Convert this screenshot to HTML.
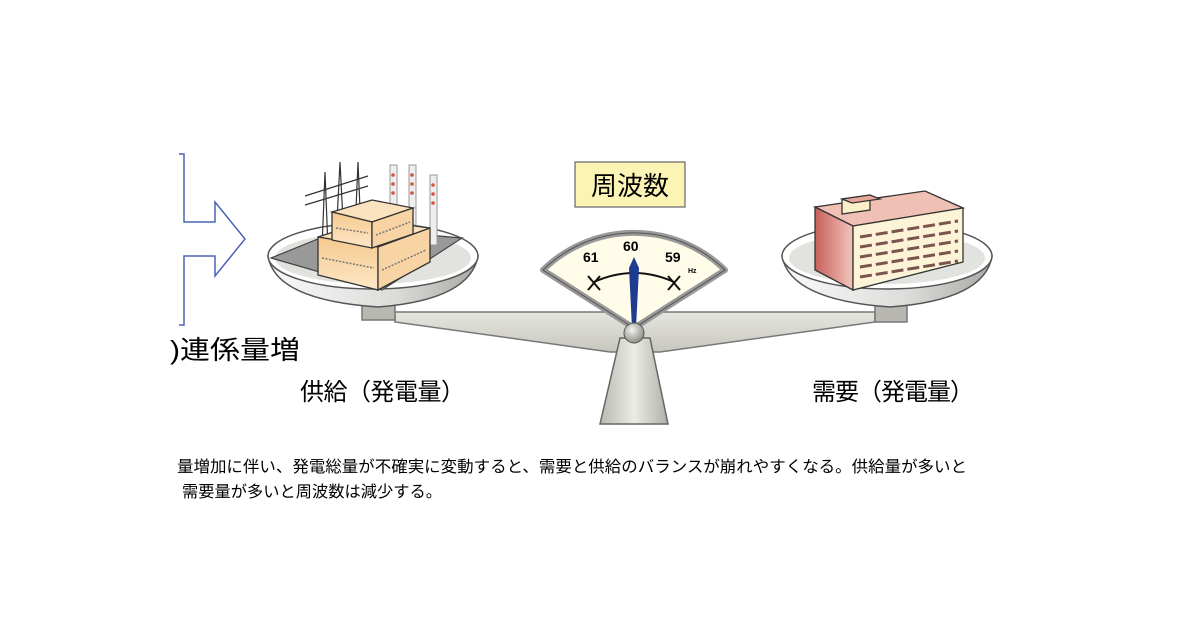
<!DOCTYPE html>
<html><head><meta charset="utf-8"><style>
html,body{margin:0;padding:0;background:#fff;}
svg{display:block}
text{font-family:"Liberation Sans","Noto Sans CJK JP",sans-serif;}
</style></head><body>
<svg width="1200" height="630" viewBox="0 0 1200 630" xmlns="http://www.w3.org/2000/svg">
<defs>
<linearGradient id="bowl" x1="0" x2="1" y1="0" y2="0"><stop offset="0" stop-color="#fafafa"/><stop offset="0.6" stop-color="#dcdcda"/><stop offset="1" stop-color="#a9a9a5"/></linearGradient>
<linearGradient id="beam" x1="0" x2="0" y1="0" y2="1"><stop offset="0" stop-color="#e6e6e0"/><stop offset="1" stop-color="#c7c7bf"/></linearGradient>
<linearGradient id="ped" x1="0" x2="1"><stop offset="0" stop-color="#b9b9b2"/><stop offset="0.5" stop-color="#ecece6"/><stop offset="1" stop-color="#b0b0a8"/></linearGradient>
<linearGradient id="box" x1="0" x2="0" y1="0" y2="1"><stop offset="0" stop-color="#f6c98e"/><stop offset="1" stop-color="#fde7c8"/></linearGradient>
<linearGradient id="pink" x1="0" x2="1"><stop offset="0" stop-color="#c8605a"/><stop offset="1" stop-color="#f1c6bd"/></linearGradient>
<radialGradient id="ball" cx="0.4" cy="0.35" r="0.7"><stop offset="0" stop-color="#f4f4f0"/><stop offset="1" stop-color="#888880"/></radialGradient>
</defs>

<path d="M179 154 H184 V222 H215 V202 L245 239 L215 276 V256 H184 V325 H179" fill="none" stroke="#4a63b8" stroke-width="1.5"/>

<path d="M395 312 H875 V322 L660 352 H610 L395 322 Z" fill="url(#beam)" stroke="#777" stroke-width="1.5"/>
<rect x="362" y="303" width="33" height="17" fill="#b8b8b0" stroke="#777" stroke-width="1.5"/>
<rect x="875" y="303" width="32" height="19" fill="#b8b8b0" stroke="#777" stroke-width="1.5"/>

<path d="M620 338 H650 L668 424 H600 Z" fill="url(#ped)" stroke="#666" stroke-width="1.5"/>

<path d="M268 256 Q275 300 378 307 Q470 300 478 256 Z" fill="url(#bowl)" stroke="#555" stroke-width="1.5"/>
<ellipse cx="373" cy="256" rx="105" ry="33" fill="#fff" stroke="#555" stroke-width="1.5"/>
<ellipse cx="373" cy="258" rx="98" ry="26" fill="#e2e2de"/>
<path d="M271 258 L345 228 L462 238 L382 290 Z" fill="#999" stroke="#444" stroke-width="1.2"/>
<g stroke="#333" stroke-width="1.2" fill="none">
<path d="M322 248 L325 172 L328 248 M336 240 L340 162 L344 240 M355 232 L358 162 L361 232"/>
<path d="M305 205 L368 186 M305 196 L368 176"/>
</g>
<g stroke="#999" stroke-width="1">
<rect x="390" y="165" width="7" height="60" fill="#eee"/>
<rect x="409" y="165" width="7" height="60" fill="#eee"/>
<rect x="430" y="175" width="7" height="70" fill="#eee"/>
</g>
<g fill="#d0553a"><circle cx="393" cy="175" r="1.8"/><circle cx="393" cy="184" r="1.8"/><circle cx="393" cy="193" r="1.8"/><circle cx="412" cy="175" r="1.8"/><circle cx="412" cy="184" r="1.8"/><circle cx="412" cy="193" r="1.8"/><circle cx="433" cy="185" r="1.8"/><circle cx="433" cy="194" r="1.8"/><circle cx="433" cy="203" r="1.8"/></g>
<g stroke="#333" stroke-width="1.3">
<path d="M318 237 L370 220 L430 228 L378 247 Z" fill="#fbe2bf"/>
<path d="M318 237 L378 247 V290 L318 275 Z" fill="url(#box)"/>
<path d="M378 247 L430 228 V262 L378 290 Z" fill="#f8d4a5"/>
<path d="M332 212 L372 200 L413 208 L372 222 Z" fill="#fbe2bf"/>
<path d="M332 212 L372 222 V248 L332 240 Z" fill="url(#box)"/>
<path d="M372 222 L413 208 V234 L372 248 Z" fill="#f8d4a5"/>
</g>
<g stroke="#777" stroke-width="1.5" stroke-dasharray="2 1.5"><path d="M322 258 L374 268 M382 270 L426 250 M336 228 L368 233 M376 235 L410 222"/></g>

<path d="M782 256 Q790 300 890 307 Q985 300 992 256 Z" fill="url(#bowl)" stroke="#555" stroke-width="1.5"/>
<ellipse cx="887" cy="256" rx="105" ry="33" fill="#fff" stroke="#555" stroke-width="1.5"/>
<ellipse cx="887" cy="258" rx="98" ry="26" fill="#e2e2de"/>
<g stroke="#333" stroke-width="1.3">
<path d="M815 207 L925 191 L963 208 L853 226 Z" fill="#f1c0b5"/>
<path d="M815 207 L853 226 V290 L815 270 Z" fill="url(#pink)"/>
<path d="M853 226 L963 208 V262 L853 290 Z" fill="#fdf4d8"/>
<path d="M842 199 L870 195 V210 L842 214 Z" fill="#fbefc8"/>
<path d="M842 199 L870 195 L880 199 L852 203 Z" fill="#e9a79c"/>
</g>
<g stroke="#7a5550" stroke-width="3">
<path d="M860 237 L958 221 M860 247 L958 231 M860 257 L958 241 M860 267 L958 251 M860 277 L958 261" stroke-dasharray="12 4"/>
</g>

<path d="M634 328 L543 270 A130 130 0 0 1 725 270 Z" fill="#fffcea" stroke="#999" stroke-width="6" stroke-linejoin="round"/>
<path d="M634 328 L543 270 A130 130 0 0 1 725 270 Z" fill="none" stroke="#555" stroke-width="1"/>
<path d="M594 282 Q634 264 674 282" fill="none" stroke="#111" stroke-width="2"/>
<path d="M588 276 L600 290 M600 276 L588 290 M668 276 L680 290 M680 276 L668 290" stroke="#111" stroke-width="2"/>
<path d="M634 257 L639 268 L636 328 H632 L629 268 Z" fill="#1d3c8f"/>
<text x="583" y="262" font-size="14" font-weight="bold">61</text>
<text x="623" y="251" font-size="14" font-weight="bold">60</text>
<text x="665" y="262" font-size="14" font-weight="bold">59</text>
<text x="688" y="273" font-size="7" font-weight="bold">Hz</text>
<circle cx="634" cy="333" r="10" fill="url(#ball)" stroke="#555" stroke-width="1"/>

<rect x="575" y="162" width="110" height="45" fill="#fcf4b4" stroke="#666" stroke-width="1.2"/>
<text x="630" y="195" font-size="26" text-anchor="middle">周波数</text>

<text x="170" y="359" font-size="26" textLength="130" lengthAdjust="spacingAndGlyphs">)連係量増</text>
<text x="300" y="400" font-size="24" textLength="165">供給（発電量）</text>
<text x="812" y="400" font-size="24" textLength="162">需要（発電量）</text>
<text x="177" y="472" font-size="16" textLength="790" lengthAdjust="spacingAndGlyphs">量増加に伴い、発電総量が不確実に変動すると、需要と供給のバランスが崩れやすくなる。供給量が多いと</text>
<text x="182" y="497" font-size="16" textLength="260" lengthAdjust="spacingAndGlyphs">需要量が多いと周波数は減少する。</text>
</svg>
</body></html>
